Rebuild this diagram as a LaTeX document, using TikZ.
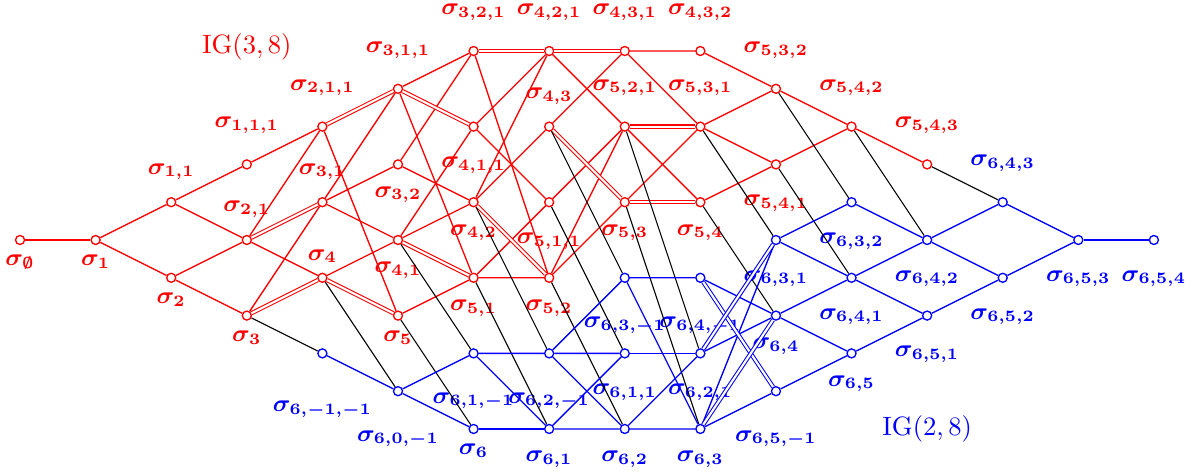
\documentclass[tikz,border=0pt]{standalone}
\usepackage{amsmath}
\usepackage{tikz}

\begin{document}
\begin{tikzpicture}[x=1cm, y=0.5cm,
  vtx/.style={circle, fill=white, line width=0.5pt, inner sep=0pt, minimum size=3.4pt},
  rv/.style={vtx, draw=red},
  bv/.style={vtx, draw=blue},
  every label/.style={circle, inner sep=0pt, font=\small},
  ra/.style={label={[red]above:$\boldsymbol{\sigma_{#1}}$}},
  rb/.style={label={[red]below:$\boldsymbol{\sigma_{#1}}$}},
  ba/.style={label={[blue]above:$\boldsymbol{\sigma_{#1}}$}},
  bb/.style={label={[blue]below:$\boldsymbol{\sigma_{#1}}$}},
  rl/.style={red, line width=0.5pt},
  rd/.style={red, double, line width=0.4pt, double distance=0.8pt},
  bl/.style={blue, line width=0.5pt},
  bd/.style={blue, double, line width=0.4pt, double distance=0.8pt},
  kl/.style={black, line width=0.4pt}
]
\useasboundingbox (-0.265,-6.19) rectangle (15.57,6.35);

% IG(3,8)
\node[rv, rb={\emptyset}] (e) at (0,0) {};
\node[rv, rb={1}] (r1) at (1,0) {};
\node[rv, ra={1,1}] (r11) at (2,1) {};
\node[rv, rb={2}] (r2) at (2,-1) {};
\node[rv, ra={1,1,1}] (r111) at (3,2) {};
\node[rv, ra={2,1}] (r21) at (3,0) {};
\node[rv, rb={3}] (r3) at (3,-2) {};
\node[rv, ra={2,1,1}] (r211) at (4,3) {};
\node[rv, ra={3,1}] (r31) at (4,1) {};
\node[rv, ra={4}] (r4) at (4,-1) {};
\node[rv, ra={3,1,1}] (r311) at (5,4) {};
\node[rv, rb={3,2}] (r32) at (5,2) {};
\node[rv, rb={4,1}] (r41) at (5,0) {};
\node[rv, rb={5}] (r5) at (5,-2) {};
\node[rv, ra={3,2,1}] (r321) at (6,5) {};
\node[rv, rb={4,1,1}] (r411) at (6,3) {};
\node[rv, rb={4,2}] (r42) at (6,1) {};
\node[rv, rb={5,1}] (r51) at (6,-1) {};
\node[rv, ra={4,2,1}] (r421) at (7,5) {};
\node[rv, ra={4,3}] (r43) at (7,3) {};
\node[rv, rb={5,1,1}] (r511) at (7,1) {};
\node[rv, rb={5,2}] (r52) at (7,-1) {};
\node[rv, ra={4,3,1}] (r431) at (8,5) {};
\node[rv, ra={5,2,1}] (r521) at (8,3) {};
\node[rv, rb={5,3}] (r53) at (8,1) {};
\node[rv, ra={4,3,2}] (r432) at (9,5) {};
\node[rv, ra={5,3,1}] (r531) at (9,3) {};
\node[rv, rb={5,4}] (r54) at (9,1) {};
\node[rv, ra={5,3,2}] (r532) at (10,4) {};
\node[rv, rb={5,4,1}] (r541) at (10,2) {};
\node[rv, ra={5,4,2}] (r542) at (11,3) {};
\node[rv, ra={5,4,3}] (r543) at (12,2) {};

% IG(2,8)
\node[bv, bb={6,-1,-1}] (bmm) at (4,-3) {};
\node[bv, bb={6,0,-1}] (b0m) at (5,-4) {};
\node[bv, bb={6,1,-1}] (b1m) at (6,-3) {};
\node[bv, bb={6}] (b6) at (6,-5) {};
\node[bv, bb={6,2,-1}] (b2m) at (7,-3) {};
\node[bv, bb={6,1}] (b61) at (7,-5) {};
\node[bv, bb={6,3,-1}] (b3m) at (8,-1) {};
\node[bv, bb={6,1,1}] (b611) at (8,-3) {};
\node[bv, bb={6,2}] (b62) at (8,-5) {};
\node[bv, bb={6,4,-1}] (b4m) at (9,-1) {};
\node[bv, bb={6,2,1}] (b621) at (9,-3) {};
\node[bv, bb={6,3}] (b63) at (9,-5) {};
\node[bv, bb={6,3,1}] (b631) at (10,0) {};
\node[bv, bb={6,4}] (b64) at (10,-2) {};
\node[bv, bb={6,5,-1}] (b5m) at (10,-4) {};
\node[bv, bb={6,3,2}] (b632) at (11,1) {};
\node[bv, bb={6,4,1}] (b641) at (11,-1) {};
\node[bv, bb={6,5}] (b65) at (11,-3) {};
\node[bv, bb={6,4,2}] (b642) at (12,0) {};
\node[bv, bb={6,5,1}] (b651) at (12,-2) {};
\node[bv, ba={6,4,3}] (b643) at (13,1) {};
\node[bv, bb={6,5,2}] (b652) at (13,-1) {};
\node[bv, bb={6,5,3}] (b653) at (14,0) {};
\node[bv, bb={6,5,4}] (b654) at (15,0) {};

\node[red] (ig38) at (3,5.1) {$\mathrm{IG}(3,8)$};
\node[blue] (ig28) at (12,-5) {$\mathrm{IG}(2,8)$};

% red edges
\draw[rl] (e) -- (r1);
\draw[rl] (r1) -- (r11) (r1) -- (r2);
\draw[rl] (r11) -- (r111) (r11) -- (r21);
\draw[rl] (r2) -- (r21) (r2) -- (r3);
\draw[rl] (r111) -- (r211);
\draw[rl] (r21) -- (r211) (r21) -- (r4);
\draw[rl] (r3) -- (r31);
\draw[rl] (r211) -- (r5);
\draw[rl] (r31) -- (r311) (r31) -- (r32) (r31) -- (r41);
\draw[rl] (r4) -- (r41);
\draw[rl] (r311) -- (r321) (r311) -- (r51);
\draw[rl] (r32) -- (r321) (r32) -- (r42);
\draw[rl] (r41) -- (r411) (r41) -- (r42);
\draw[rl] (r5) -- (r51);
\draw[rl] (r321) -- (r52);
\draw[rl] (r411) -- (r421) (r411) -- (r511);
\draw[rl] (r42) -- (r421) (r42) -- (r43);
\draw[rl] (r51) -- (r511) (r51) -- (r52);
\draw[rl] (r421) -- (r521);
\draw[rl] (r43) -- (r431);
\draw[rl] (r511) -- (r521);
\draw[rl] (r52) -- (r521) (r52) -- (r53);
\draw[rl] (r431) -- (r432) (r431) -- (r531);
\draw[rl] (r521) -- (r54);
\draw[rl] (r53) -- (r531);
\draw[rl] (r432) -- (r532);
\draw[rl] (r531) -- (r532) (r531) -- (r541);
\draw[rl] (r54) -- (r541);
\draw[rl] (r532) -- (r542);
\draw[rl] (r541) -- (r542);
\draw[rl] (r542) -- (r543);
\draw[rd] (r21) -- (r31);
\draw[rd] (r3) -- (r4);
\draw[rd] (r211) -- (r311);
\draw[rd] (r4) -- (r5);
\draw[rd] (r311) -- (r411);
\draw[rd] (r41) -- (r51);
\draw[rd] (r321) -- (r421);
\draw[rd] (r42) -- (r52);
\draw[rd] (r421) -- (r431);
\draw[rd] (r43) -- (r53);
\draw[rd] (r521) -- (r531);
\draw[rd] (r53) -- (r54);

% between the two
\draw[kl] (r3) -- (bmm);
\draw[kl] (r4) -- (b0m);
\draw[kl] (r5) -- (b6);
\draw[kl] (r41) -- (b1m);
\draw[kl] (r51) -- (b61);
\draw[kl] (r42) -- (b2m);
\draw[kl] (r52) -- (b62);
\draw[kl] (r43) -- (b3m);
\draw[kl] (r53) -- (b63);
\draw[kl] (r54) -- (b64);
\draw[kl] (r511) -- (b611);
\draw[kl] (r521) -- (b621);
\draw[kl] (r531) -- (b631);
\draw[kl] (r541) -- (b641);
\draw[kl] (r532) -- (b632);
\draw[kl] (r542) -- (b642);
\draw[kl] (r543) -- (b643);

% blue edges
\draw[bl] (bmm) -- (b0m);
\draw[bl] (b0m) -- (b1m) (b0m) -- (b6);
\draw[bl] (b1m) -- (b2m) (b1m) -- (b61);
\draw[bl] (b6) -- (b61);
\draw[bl] (b2m) -- (b3m) (b2m) -- (b611) (b2m) -- (b62);
\draw[bl] (b61) -- (b611) (b61) -- (b62);
\draw[bl] (b3m) -- (b4m) (b3m) -- (b63);
\draw[bl] (b611) -- (b621);
\draw[bl] (b62) -- (b621) (b62) -- (b63);
\draw[bl] (b4m) -- (b64);
\draw[bl] (b621) -- (b64);
\draw[bl] (b63) -- (b631) (b63) -- (b5m);
\draw[bl] (b631) -- (b632) (b631) -- (b641);
\draw[bl] (b64) -- (b641) (b64) -- (b65);
\draw[bl] (b5m) -- (b65);
\draw[bl] (b632) -- (b642);
\draw[bl] (b641) -- (b642) (b641) -- (b651);
\draw[bl] (b65) -- (b651);
\draw[bl] (b642) -- (b643) (b642) -- (b652);
\draw[bl] (b651) -- (b652);
\draw[bl] (b643) -- (b653);
\draw[bl] (b652) -- (b653);
\draw[bl] (b653) -- (b654);
\draw[bd] (b4m) -- (b5m);
\draw[bd] (b621) -- (b631);
\draw[bd] (b63) -- (b64);
\end{tikzpicture}
\end{document}
